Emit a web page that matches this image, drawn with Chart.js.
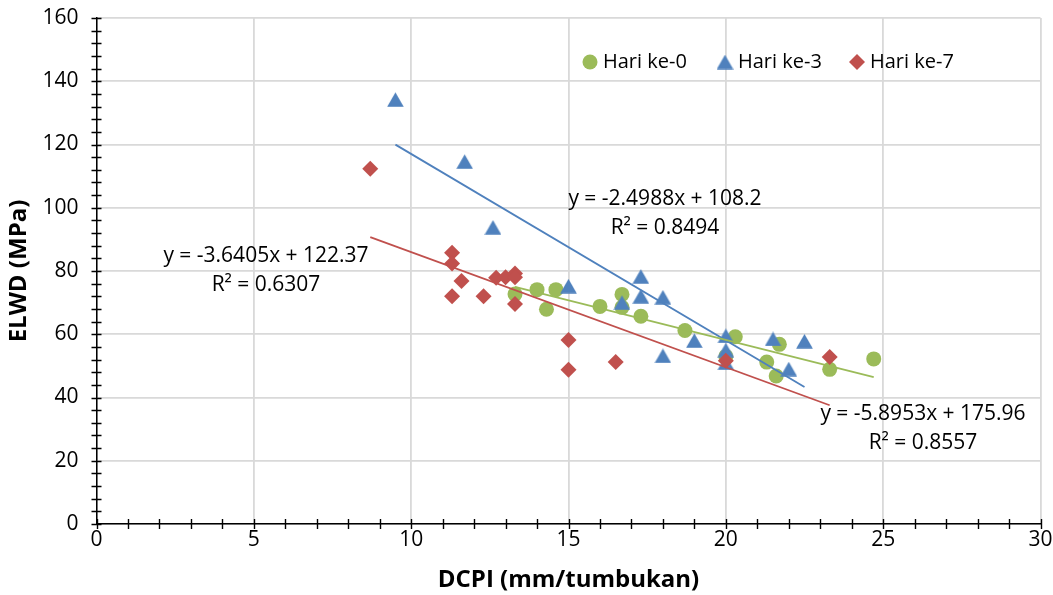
<!DOCTYPE html>
<html>
<head>
<meta charset="utf-8">
<title>ELWD vs DCPI</title>
<script src="https://cdn.jsdelivr.net/npm/chart.js@4.4.1/dist/chart.umd.min.js"></script>
<style>
  html, body { margin: 0; padding: 0; background: #fff; }
  #wrap { width: 1053px; height: 595px; }
</style>
</head>
<body>
<div id="wrap"><canvas id="elwdChart" width="1053" height="595"></canvas></div>
<script>
// Values: DCPI (mm/tumbukan) vs ELWD (MPa)
const seriesNames = ["Hari ke-0", "Hari ke-3", "Hari ke-7"];

const day0X = [13.3, 14.0, 14.6, 14.3, 16.0, 16.7, 16.7, 17.3, 18.7, 20.0, 20.3, 21.3, 21.7, 21.6, 23.3, 24.7];
const day0Y = [72.7, 74.1, 74.1, 67.9, 68.8, 72.6, 68.5, 65.7, 61.2, 53.0, 59.2, 51.2, 56.8, 46.8, 48.9, 52.2];

const day3X = [9.5, 11.7, 12.6, 15.0, 16.7, 17.3, 17.3, 18.0, 18.0, 19.0, 20.0, 20.0, 20.0, 21.5, 22.0, 22.5];
const day3Y = [134.2, 114.6, 93.8, 75.2, 70.0, 78.3, 72.0, 71.7, 53.2, 58.0, 59.5, 55.0, 51.0, 58.5, 49.0, 57.8];

const day7X = [8.7, 11.3, 11.3, 11.6, 11.3, 12.3, 12.7, 13.0, 13.3, 13.3, 13.3, 15.0, 15.0, 16.5, 20.0, 23.3];
const day7Y = [112.3, 85.8, 82.4, 76.8, 72.0, 72.0, 77.9, 78.0, 79.2, 78.0, 69.6, 58.2, 48.8, 51.2, 51.6, 52.8];

// linear trendlines as printed on the chart (slope, intercept)
const trendSlope = [-2.4988, -5.8953, -3.6405];
const trendIntercept = [108.2, 175.96, 122.37];
const trendText = ["y = -2.4988x + 108.2", "y = -5.8953x + 175.96", "y = -3.6405x + 122.37"];
const r2Text = ["R\u00B2 = 0.8494", "R\u00B2 = 0.8557", "R\u00B2 = 0.6307"];

const xTicks = [0, 5, 10, 15, 20, 25, 30];
const yTicks = [0, 20, 40, 60, 80, 100, 120, 140, 160];

const colors = ["#9BBB59", "#4F81BD", "#C0504D"];
const markerSize = [7.5, 9.5, 8];

const FONT = "'Open Sans', 'Liberation Sans', sans-serif";

// Excel-style triangle: centred on its bounding box, not on its centroid
function makeTriangle(color) {
  const c = document.createElement("canvas");
  c.width = 17;
  c.height = 15;
  const g = c.getContext("2d");
  g.fillStyle = color;
  g.beginPath();
  g.moveTo(8.5, 0.3);
  g.lineTo(16.8, 14.7);
  g.lineTo(0.2, 14.7);
  g.closePath();
  g.fill();
  return c;
}
const markers = ["circle", makeTriangle(colors[1]), "rectRot"];

function toPoints(xs, ys) {
  return xs.map((x, i) => ({ x: x, y: ys[i] }));
}

// trendline endpoints at the min / max x of each series
function trendPoints(xs, k) {
  const lo = Math.min(...xs);
  const hi = Math.max(...xs);
  return [
    { x: lo, y: trendSlope[k] * lo + trendIntercept[k] },
    { x: hi, y: trendSlope[k] * hi + trendIntercept[k] },
  ];
}

const allX = [day0X, day3X, day7X];
const allY = [day0Y, day3Y, day7Y];

const datasets = [];
for (let k = 0; k < 3; k++) {
  datasets.push({
    label: seriesNames[k],
    data: toPoints(allX[k], allY[k]),
    pointStyle: markers[k],
    pointRadius: markerSize[k],
    pointHoverRadius: markerSize[k],
    backgroundColor: colors[k],
    borderColor: colors[k],
    pointBorderWidth: 0,
    showLine: false,
    order: 3 - k,
  });
}
for (let k = 0; k < 3; k++) {
  datasets.push({
    label: "trend " + k,
    data: trendPoints(allX[k], k),
    showLine: true,
    borderColor: colors[k],
    borderWidth: 1.8,
    pointRadius: 0,
    fill: false,
    order: 0,
  });
}

// tick marks crossing the axes (major + minor)
const axisTicks = {
  id: "axisTicks",
  afterDraw(chart) {
    const ctx = chart.ctx;
    const xs = chart.scales.x;
    const ys = chart.scales.y;
    const x0 = xs.getPixelForValue(0);
    const y0 = ys.getPixelForValue(0);
    ctx.save();
    ctx.strokeStyle = "#000";
    ctx.lineWidth = 1.4;
    ctx.beginPath();
    for (let v = 0; v <= 30; v += 1) {
      const px = Math.round(xs.getPixelForValue(v)) + 0.5;
      ctx.moveTo(px, y0 - 5);
      ctx.lineTo(px, y0 + 5);
    }
    for (let v = 0; v <= 160; v += 4) {
      const py = Math.round(ys.getPixelForValue(v)) + 0.5;
      ctx.moveTo(x0 - 5, py);
      ctx.lineTo(x0 + 5, py);
    }
    ctx.stroke();
    ctx.restore();
  },
};

// legend inside the plot + trendline equations
const overlayText = {
  id: "overlayText",
  afterDraw(chart) {
    const ctx = chart.ctx;
    ctx.save();
    // legend
    const legX = [590, 725, 857];
    const legY = 62;
    ctx.font = "20px " + FONT;
    ctx.textBaseline = "middle";
    ctx.textAlign = "left";
    for (let k = 0; k < 3; k++) {
      ctx.fillStyle = colors[k];
      Chart.helpers.drawPoint(ctx, {
        pointStyle: markers[k],
        radius: markerSize[k],
        rotation: 0,
        borderWidth: 0,
      }, legX[k], legY);
      ctx.fillStyle = "#000";
      ctx.fillText(seriesNames[k], legX[k] + 13, legY);
    }
    // equations
    const eqX = [665, 923, 266];
    const eqY = [199, 414, 256];
    ctx.font = "21px " + FONT;
    ctx.textAlign = "center";
    ctx.fillStyle = "#000";
    for (let k = 0; k < 3; k++) {
      ctx.fillText(trendText[k], eqX[k], eqY[k]);
      ctx.fillText(r2Text[k], eqX[k], eqY[k] + 29);
    }
    ctx.restore();
  },
};

Chart.defaults.font.family = FONT;
Chart.defaults.color = "#000";

new Chart(document.getElementById("elwdChart"), {
  type: "scatter",
  data: { datasets: datasets },
  options: {
    responsive: false,
    animation: false,
    layout: { padding: { top: 18, right: 12.5, left: 0, bottom: 0 } },
    plugins: {
      legend: { display: false },
      tooltip: { enabled: false },
    },
    scales: {
      x: {
        type: "linear",
        min: 0,
        max: 30,
        afterBuildTicks: (s) => { s.ticks = xTicks.map((v) => ({ value: v })); },
        afterFit: (s) => {
          s.height = 71;
          s.paddingLeft = 0;
          s.paddingRight = 0;
        },
        ticks: { font: { size: 21 }, padding: 3, color: "#000" },
        grid: { color: "#d9d9d9", lineWidth: 1.8, drawTicks: false },
        border: { color: "#000", width: 1.5 },
        title: {
          display: true,
          text: "DCPI (mm/tumbukan)",
          font: { size: 24, weight: "bold" },
          padding: { top: 0, bottom: 0 },
          color: "#000",
        },
      },
      y: {
        type: "linear",
        min: 0,
        max: 160,
        afterBuildTicks: (s) => { s.ticks = yTicks.map((v) => ({ value: v })); },
        afterFit: (s) => {
          s.width = 96.5;
          s.paddingTop = 0;
          s.paddingBottom = 0;
        },
        ticks: { font: { size: 21 }, padding: 18, color: "#000" },
        grid: { color: "#d9d9d9", lineWidth: 1.8, drawTicks: false },
        border: { color: "#000", width: 1.5 },
        title: {
          display: true,
          text: "ELWD (MPa)",
          font: { size: 24, weight: "bold" },
          padding: { top: 5, bottom: 0 },
          color: "#000",
        },
      },
    },
  },
  plugins: [axisTicks, overlayText],
});
</script>
</body>
</html>
